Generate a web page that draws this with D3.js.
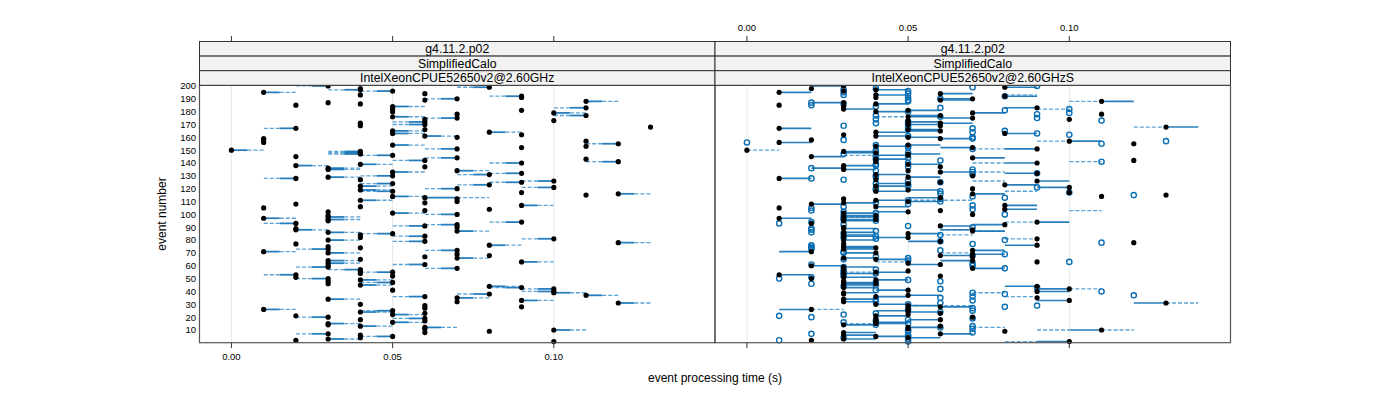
<!DOCTYPE html>
<html>
<head>
<meta charset="utf-8">
<script src="https://cdn.jsdelivr.net/npm/d3@7"></script>
<style>
body{margin:0;background:#fff}
svg{font-family:"Liberation Sans",Arial,sans-serif}
</style>
</head>
<body>
<div id="chart"></div>
<script>
// event processing time per event, in hundredths of a second
const events=d3.range(1,201)

const leftDot=[
10,2,3,4,5,4,3,6,8,10, 6,6,4,3,3,5,6,4,6,3,
2,5,6,4,5,1,6,9,6,4, 12,7,9,3,7,6,11,8,10,10,
5,10,9,8,4,3,5,3,4,3, 2,5,2,4,5,4,4,7,3,3,
6,3,9,3,4,7,6,8,7,3, 1,7,3,4,3,8,2,12,6,3,
10,4,6,4,5,3,7,2,2,7, 6,7,2,9,3,3,1,3,3,7,
5,3,6,8,1,4,9,2,6,7, 4,7,6,5,11,12,9,5,4,7,
10,4,8,5,9,10,4,2,3,5, 8,9,5,7,3,3,6,2,4,9,
12,6,11,7,2,5,4,4,4,0, 7,9,11,5,12,1,11,1,1,7,
6,9,5,8,5,6,2,13,4,6, 4,6,10,6,7,5,11,7,10,5,
9,5,11,5,2,4,3,11,6,7, 9,9,4,6,1,5,4,4,8,3]

const leftOther=[
10,2,4,4,4,4,2,6,8,11, 6,7,5,3,4,6,6,4,5,2,
2,6,6,5,4,2,6,9,6,4, 13,7,10,4,8,5,12,7,11,9,
5,9,8,9,5,3,4,3,5,2, 2,5,1,4,4,4,3,6,2,3,
5,4,10,4,4,8,6,8,7,4, 2,6,2,4,3,9,2,13,5,4,
9,4,5,4,4,4,8,3,2,7, 5,6,1,8,3,4,2,4,3,6,
6,3,6,8,1,4,10,2,6,7, 5,7,8,6,11,13,9,4,5,6,
9,5,7,4,8,9,4,1,4,4, 7,8,6,8,4,4,6,3,5,8,
11,5,11,6,2,4,3,3,3,1, 6,9,11,6,11,1,11,1,1,7,
7,9,6,9,6,6,1,13,4,5, 4,5,10,6,6,6,10,7,11,5,
9,5,10,6,2,4,3,12,6,6, 9,8,4,6,2,4,3,4,7,2]

const rightFilled=[
10,2,3,5,4,3,6,3,8,11, 5,5,6,3,4,4,4,6,4,7,
4,5,6,5,5,2,5,6,5,4, 13,3,10,3,9,4,5,3,3,9,
5,10,3,9,3,4,3,3,4,2, 3,6,1,3,4,5,3,7,3,2,
6,5,9,7,4,3,7,6,7,4, 2,7,3,4,3,9,3,12,6,3,
9,5,3,3,5,3,7,7,3,3, 6,8,2,9,3,4,1,3,4,7,
3,5,6,8,1,4,8,2,3,5, 4,3,6,11,13,7,10,4,5,7,
10,4,8,5,6,9,4,1,5,7, 4,9,6,5,3,3,6,3,5,9,
4,12,4,7,2,5,5,4,3,0, 9,7,4,5,12,1,10,2,6,5,
4,3,8,4,6,5,1,13,6,5, 6,5,5,10,7,5,6,11,7,4,
5,3,9,3,1,4,3,11,6,7, 4,8,4,6,1,3,4,2,8,3]

const rightOpen=[
5,1,5,3,5,5,2,7,5,5, 7,6,7,4,5,3,4,5,7,2,
1,3,4,6,7,5,7,8,9,5, 6,4,7,4,6,7,12,8,7,11,
4,6,9,3,4,2,4,6,5,1, 2,3,3,4,3,3,4,8,3,7,
2,7,10,5,3,5,4,7,8,3, 3,6,2,2,2,2,7,11,6,8,
4,3,4,6,3,2,4,2,2,7, 5,3,1,2,4,3,3,4,3,8,
4,3,2,7,2,3,7,5,4,6, 5,6,8,7,12,6,10,6,4,4,
9,5,5,4,6,5,3,2,4,4, 7,9,7,4,7,2,5,4,4,5,
11,6,4,5,4,4,3,5,4,4, 7,5,5,4,11,0,13,3,7,7,
5,10,9,7,8,5,7,5,3,5, 4,5,11,4,9,6,4,9,10,5,
8,10,6,4,2,3,2,5,5,6, 5,8,3,5,3,5,3,4,7,9]

const rightSolid=[
9,2,4,6,5,4,7,4,8,10, 5,6,6,4,5,5,4,5,4,7,
5,5,6,6,4,1,5,7,6,5, 12,4,9,4,9,5,6,3,4,10,
4,9,4,8,4,3,4,3,5,2, 4,6,2,4,5,5,3,8,4,3,
5,5,9,6,5,4,7,7,8,3, 1,8,4,3,4,8,3,12,5,4,
9,4,4,4,6,4,8,6,4,3, 7,7,2,10,4,3,2,4,3,7,
4,4,6,9,1,5,9,3,4,6, 5,3,5,11,13,8,10,5,6,7,
9,5,9,4,6,10,4,2,6,7, 5,8,7,5,4,2,6,4,6,8,
4,12,5,8,3,4,6,3,4,0, 8,6,5,6,12,2,11,2,7,6,
5,3,9,5,5,6,2,14,6,6, 7,6,5,10,6,6,5,11,8,5,
6,4,8,3,1,5,2,12,7,6, 4,9,5,7,2,3,5,2,9,2]

// [event, from, to] dashed pieces in the right panel
const rightDashed=[
[150,0,1],[157,9,10],[188,10,11],[168,12,13],[31,13,14],[10,9,10],[10,11,12],
[26,2,3],[151,7,8],[182,9,10],[141,10,11],[126,7,8],[118,8,9],[103,10,11],
[140,7,8],[133,7,8],[193,8,9],[111,5,7],[176,4,5],[63,4,5],[15,3,4],[88,6,7],
[84,6,7],[29,5,7],[94,8,9],[87,7,8],[81,8,9],[70,6,7],[42,10,11],[39,7,8],
[36,8,9],[12,7,8],[1,8,9],[146,3,4],[98,3,4],[55,3,4]]

const xTicks=[0,0.05,0.1]
const yTicks=d3.range(10,201,10)
const strips=["g4.11.2.p02","SimplifiedCalo"]
const machines=["IntelXeonCPUE52650v2@2.60GHz","IntelXeonCPUE52650v2@2.60GHzS"]

const W=1400,H=400
const panelTop=85.3,panelBottom=342.7
const panels=[{x0:199.5,x1:715},{x0:715,x1:1230.5}]
const stripH=14.6

const svg=d3.select("#chart").append("svg").attr("width",W).attr("height",H)

const y=d3.scaleLinear().domain([0.1,200.5]).range([panelBottom,panelTop])

const DARK="#1171b5",LIGHT="#5aa2d5"

panels.forEach((p,pi)=>{

p.x=d3.scaleLinear().domain([-0.0099,0.15]).range([p.x0,p.x1])
const g=svg.append("g")
const x=p.x

// grid
g.selectAll("line.grid").data(xTicks).enter().append("line")
.attr("x1",d=>x(d)).attr("x2",d=>x(d))
.attr("y1",panelTop).attr("y2",panelBottom)
.attr("stroke","#e8e8e8").attr("stroke-width",1)

const h=v=>x(v/100)

if(pi===0){

events.forEach((e,i)=>{
const a=leftDot[i],b=leftOther[i]
if(a===b)return
const m=(a+b)/2
g.append("line").attr("x1",h(a)).attr("x2",h(m)).attr("y1",y(e)).attr("y2",y(e))
.attr("stroke",DARK).attr("stroke-width",1.8).attr("opacity",0.9)
g.append("line").attr("x1",h(m)).attr("x2",h(b)).attr("y1",y(e)).attr("y2",y(e))
.attr("stroke",LIGHT).attr("stroke-width",1.3).attr("stroke-dasharray","4,2")
})

g.selectAll("circle.f").data(events).enter().append("circle")
.attr("cx",(e,i)=>h(leftDot[i])).attr("cy",e=>y(e)).attr("r",2.6).attr("fill","#000")

}else{

rightDashed.forEach(d=>{
g.append("line").attr("x1",h(d[1])).attr("x2",h(d[2])).attr("y1",y(d[0])).attr("y2",y(d[0]))
.attr("stroke",LIGHT).attr("stroke-width",1.3).attr("stroke-dasharray","4,2")
})

events.forEach((e,i)=>{
const a=rightFilled[i],b=rightSolid[i]
if(a===b)return
g.append("line").attr("x1",h(a)).attr("x2",h(b)).attr("y1",y(e)).attr("y2",y(e))
.attr("stroke",DARK).attr("stroke-width",1.6).attr("opacity",0.9)
})

g.selectAll("circle.o").data(events).enter().append("circle")
.attr("cx",(e,i)=>h(rightOpen[i])).attr("cy",e=>y(e)).attr("r",2.6)
.attr("fill","none").attr("stroke","#0b6fb3").attr("stroke-width",1.4)

g.selectAll("circle.f").data(events).enter().append("circle")
.attr("cx",(e,i)=>h(rightFilled[i])).attr("cy",e=>y(e)).attr("r",2.6).attr("fill","#000")

}

// frame
g.append("rect").attr("x",p.x0).attr("y",panelTop).attr("width",p.x1-p.x0).attr("height",panelBottom-panelTop)
.attr("fill","none").attr("stroke","#555").attr("stroke-width",1.2)

// strips
const labels=[strips[0],strips[1],machines[pi]]
labels.forEach((t,k)=>{
const sy=panelTop-stripH*(3-k)
g.append("rect").attr("x",p.x0).attr("y",sy).attr("width",p.x1-p.x0).attr("height",stripH)
.attr("fill","#f2f2f2").attr("stroke","#333").attr("stroke-width",1)
g.append("text").attr("x",(p.x0+p.x1)/2).attr("y",sy+stripH/2+4.3)
.attr("text-anchor","middle").attr("font-size","12.3px").attr("fill","#000").text(t)
})

// tick marks: bottom for left panel with labels, top for right panel with labels
const stripTop=panelTop-stripH*3
const ax=svg.append("g")
if(pi===0){
ax.selectAll("line.bt").data(xTicks).enter().append("line")
.attr("x1",d=>x(d)).attr("x2",d=>x(d)).attr("y1",panelBottom).attr("y2",panelBottom+5.5)
.attr("stroke","#333")
ax.selectAll("text").data(xTicks).enter().append("text")
.attr("x",d=>x(d)).attr("y",panelBottom+17).attr("text-anchor","middle")
.attr("font-size","9.5px").text(d3.format(".2f"))
ax.selectAll("line.tt").data(xTicks).enter().append("line")
.attr("x1",d=>x(d)).attr("x2",d=>x(d)).attr("y1",stripTop).attr("y2",stripTop-5.5)
.attr("stroke","#333")
}else{
ax.selectAll("line.tt").data(xTicks).enter().append("line")
.attr("x1",d=>x(d)).attr("x2",d=>x(d)).attr("y1",stripTop).attr("y2",stripTop-5.5)
.attr("stroke","#333")
ax.selectAll("text").data(xTicks).enter().append("text")
.attr("x",d=>x(d)).attr("y",stripTop-11).attr("text-anchor","middle")
.attr("font-size","9.5px").text(d3.format(".2f"))
ax.selectAll("line.bt").data(xTicks).enter().append("line")
.attr("x1",d=>x(d)).attr("x2",d=>x(d)).attr("y1",panelBottom).attr("y2",panelBottom+5.5)
.attr("stroke","#333")
}

})

// y axis labels
svg.append("g").selectAll("text").data(yTicks).enter().append("text")
.attr("x",196).attr("y",d=>y(d)+3.4).attr("text-anchor","end")
.attr("font-size","9.5px").text(d=>d)

svg.append("text").attr("transform","translate(166,"+((panelTop+panelBottom)/2)+") rotate(-90)")
.attr("text-anchor","middle").attr("font-size","12px").text("event number")

svg.append("text").attr("x",715).attr("y",382).attr("text-anchor","middle")
.attr("font-size","12px").text("event processing time (s)")
</script>
</body>
</html>
